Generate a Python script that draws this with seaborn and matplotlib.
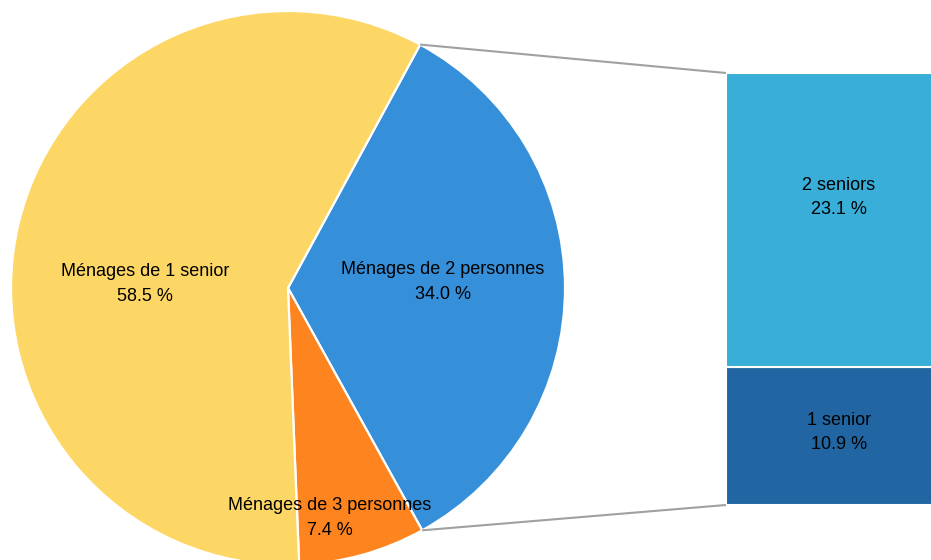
import numpy as np
import matplotlib
matplotlib.use("Agg")
import matplotlib.pyplot as plt
import seaborn as sns

# Data
pie_labels = ["Ménages de 2 personnes", "Ménages de 3 personnes", "Ménages de 1 senior"]
pie_values = [34.0, 7.4, 58.5]
pie_colors = ["#368FD9", "#FD841F", "#FDD765"]

bar_labels = ["1 senior", "2 seniors"]
bar_values = [10.9, 23.1]
bar_colors = ["#2166A2", "#38AED8"]

sns.set_theme(style="white")
plt.rcParams['font.family'] = ['Liberation Sans Narrow', 'Liberation Sans', 'DejaVu Sans']

W, H = 931, 560
fig = plt.figure(figsize=(W / 100, H / 100), dpi=100)
ax = fig.add_axes([0, 0, 1, 1])

cx, cy, r = 288, H - 288, 277
start = 61.5
wedges, _ = ax.pie(pie_values, colors=pie_colors, startangle=start, counterclock=False,
                   center=(cx, cy), radius=r,
                   wedgeprops=dict(edgecolor="white", linewidth=1.6))
ax.set_xlim(0, W)
ax.set_ylim(0, H)
ax.set_aspect("equal")
ax.axis("off")

fs = 13
ls = 1.6
pie_text_pos = [(443, H - 282), (330, H - 518), (145, H - 284)]
for lab, v, (tx, ty) in zip(pie_labels, pie_values, pie_text_pos):
    ax.text(tx, ty, f"{lab}\n{v:.1f} %", ha="center", va="center", fontsize=fs,
            color="black", linespacing=ls)

# Bar of pie
bx0, by0, bh = 726, H - 505, 432
bax = fig.add_axes([bx0 / W, by0 / H, (W - bx0) / W, bh / H])
bottom = 0
bar_text_y = [5.7, 24.2]
for lab, v, c, ty in zip(bar_labels, bar_values, bar_colors, bar_text_y):
    bax.bar(0, v, bottom=bottom, width=2.0, align="edge", color=c,
            edgecolor="white", linewidth=1.5)
    bax.text(0.55, ty, f"{lab}\n{v:.1f} %", ha="center", va="center",
             fontsize=fs, color="black", linespacing=ls)
    bottom += v
bax.set_xlim(0, 1)
bax.set_ylim(0, sum(bar_values))
bax.axis("off")

# Connector lines
total = sum(pie_values)
a1 = np.deg2rad(start)
a2 = np.deg2rad(start - pie_values[0] / total * 360)
p1 = (cx + r * np.cos(a1), cy + r * np.sin(a1))
p2 = (cx + r * np.cos(a2), cy + r * np.sin(a2))
ax.plot([p1[0], bx0], [p1[1], by0 + bh], color="#A0A0A0", lw=1.5, solid_capstyle="butt")
ax.plot([p2[0], bx0], [p2[1], by0], color="#A0A0A0", lw=1.5, solid_capstyle="butt")

fig.savefig("out.png", dpi=100)
